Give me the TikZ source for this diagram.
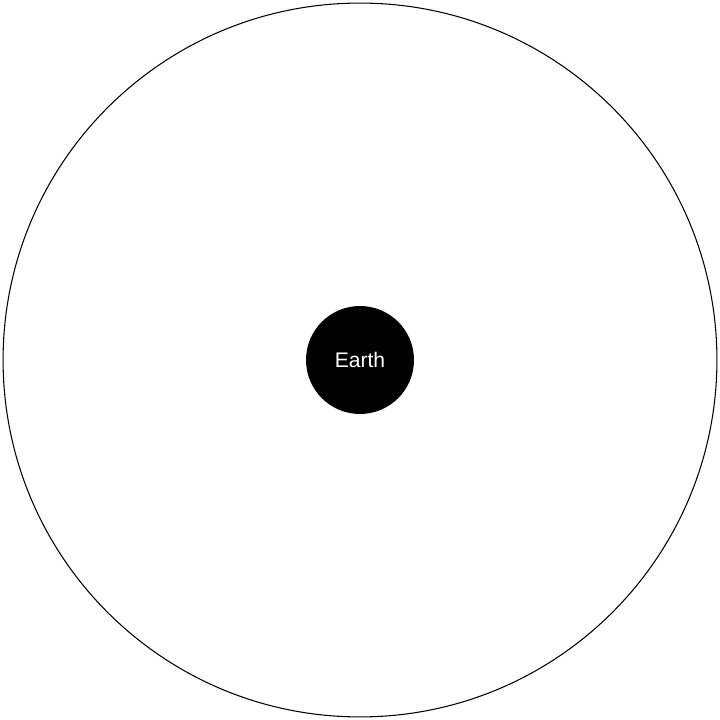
\documentclass[tikz,border=0pt]{standalone}
\usepackage{fontspec}
\setmainfont{Liberation Sans}
\definecolor{earthblack}{HTML}{000000}

\begin{document}
\begin{tikzpicture}[x=0.02cm, y=0.02cm]
  \useasboundingbox (0,0) rectangle (720,720);

  % Outer sphere around the earth
  \node[draw, circle, line width=0.6pt, minimum size=14.28cm, inner sep=0pt] (sphere) at (360,360) {};

  % Earth at the centre
  \node[circle, fill=earthblack, text=white, minimum size=2.16cm, inner sep=0pt,
        font=\fontsize{12}{14}\selectfont] (earth) at (360,360) {Earth};
\end{tikzpicture}
\end{document}
